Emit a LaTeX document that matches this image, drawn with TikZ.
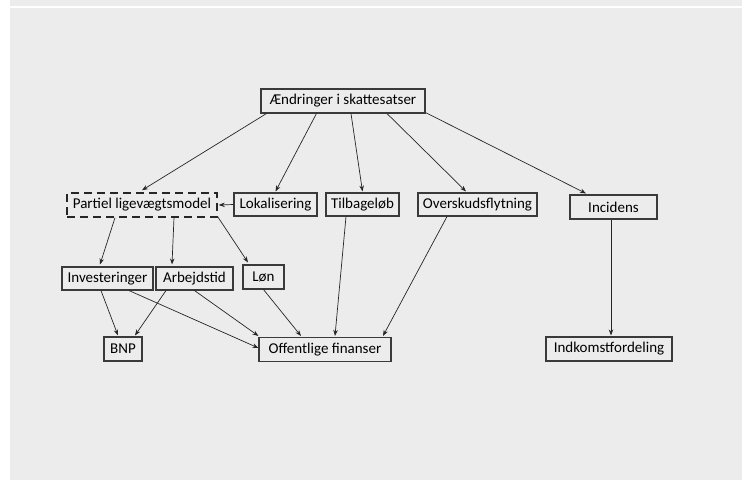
\documentclass[tikz,border=0pt]{standalone}
\usepackage{fontspec}
\setmainfont{Carlito}
\usetikzlibrary{arrows.meta,calc}
\definecolor{bg}{HTML}{ECECEC}
\definecolor{edge}{HTML}{3A3A3A}
\tikzset{
  box/.style={draw=edge, line width=1.1pt, fill=bg, inner sep=0pt, align=center,
    font=\fontsize{15}{18}\selectfont, text=black},
  dbox/.style={box, dash pattern=on 8pt off 5pt, line width=1.5pt, draw=black!85},
  arr/.style={draw=black!85, line width=0.7pt, -{Stealth[length=6pt,width=4.5pt]}},
}
\begin{document}
\begin{tikzpicture}[x=1pt,y=-1pt]
\useasboundingbox (0,0) rectangle (742,480);
\fill[white] (0,0) rectangle (742,480);
\fill[bg] (10,0) rectangle (742,6);
\fill[bg] (10,8) rectangle (742,480);

\node[box, minimum width=164pt, minimum height=24pt] (ae) at (343,101) {Ændringer i skattesatser};
\node[dbox, minimum width=150pt, minimum height=24pt] (pm) at (142,205) {Partiel ligevægtsmodel};
\node[box, minimum width=83pt, minimum height=23pt] (lok) at (275.5,204.5) {Lokalisering};
\node[box, minimum width=73pt, minimum height=23pt] (tb) at (362.5,204.5) {Tilbageløb};
\node[box, minimum width=119pt, minimum height=23pt] (ov) at (477.5,204.5) {Overskudsflytning};
\node[box, minimum width=87pt, minimum height=24pt] (inc) at (613.5,207) {Incidens};
\node[box, minimum width=91pt, minimum height=23pt] (inv) at (107.5,278.5) {Investeringer};
\node[box, minimum width=77pt, minimum height=23pt] (arb) at (194.5,278.5) {Arbejdstid};
\node[box, minimum width=41pt, minimum height=24pt] (lon) at (263.5,277) {Løn};
\node[box, minimum width=38pt, minimum height=24pt] (bnp) at (123,349) {BNP};
\node[box, minimum width=132pt, minimum height=24pt] (of) at (325,349.5) {Offentlige finanser};
\node[box, minimum width=126pt, minimum height=24pt] (ik) at (609,349) {Indkomstfordeling};

% from Ændringer
\draw[arr] ($(ae.south west)+(6,0)$) -- ($(pm.north)+(0,-2)$);
\draw[arr] ($(ae.south west)+(56,0)$) -- ($(lok.north)+(0,-1)$);
\draw[arr] ($(ae.south)+(8,0)$) -- ($(tb.north)+(0,-1)$);
\draw[arr] ($(ae.south)+(44,0)$) -- ($(ov.north)+(-11.5,-1)$);
\draw[arr] ($(ae.south east)+(0,-1)$) -- ($(inc.north)+(-27.5,-1)$);
% Lokalisering -> Partiel
\draw[arr] (lok.west) -- ($(pm.east)+(1,0)$);
% from Partiel
\draw[arr] ($(pm.south)+(-27,0)$) -- ($(inv.north)+(-7.5,-2)$);
\draw[arr] ($(pm.south)+(32,0)$) -- ($(arb.north)+(-22.5,-2)$);
\draw[arr] ($(pm.south east)+(0,-1)$) -- ($(lon.north)+(-15.5,-2)$);
% to BNP
\draw[arr] ($(inv.south)+(-6.5,0)$) -- ($(bnp.north)+(-5,-1)$);
\draw[arr] ($(arb.south)+(-28.5,0)$) -- ($(bnp.north)+(12,-1)$);
% to Offentlige finanser
\draw[arr] ($(inv.south)+(21.5,0)$) -- ($(of.west)+(0,-1.5)$);
\draw[arr] (arb.south) -- ($(of.north west)+(0,-1)$);
\draw[arr] (lon.south) -- ($(of.north)+(-24,-1)$);
\draw[arr] ($(tb.south)+(-16.5,0)$) -- ($(of.north)+(10,-1)$);
\draw[arr] ($(ov.south)+(-30.5,0)$) -- ($(of.north)+(58,-1)$);
% Incidens -> Indkomstfordeling
\draw[arr] ($(inc.south)+(-2.5,0)$) -- ($(ik.north)+(2,-1)$);
\end{tikzpicture}
\end{document}
